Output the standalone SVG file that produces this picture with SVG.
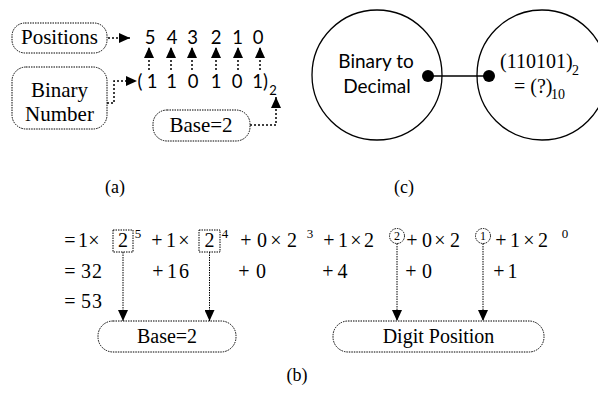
<svg xmlns="http://www.w3.org/2000/svg" width="598" height="396" viewBox="0 0 598 396">
<defs>
<marker id="ah" markerUnits="userSpaceOnUse" markerWidth="11" markerHeight="10" refX="11" refY="5" orient="auto" viewBox="0 0 11 10">
<path d="M0,0 L11,5 L0,10 z" fill="#000"/>
</marker>
</defs>
<rect x="0" y="0" width="598" height="396" fill="#fff"/>
<g id="positions">
<rect x="12" y="23" width="95" height="30" rx="13" fill="none" stroke="#000" stroke-width="1" stroke-dasharray="1.5 1"/>
<text font-family="Liberation Serif" x="59.5" y="44" font-size="21" text-anchor="middle">Positions</text>
</g>
<g id="binary-number">
<rect x="12" y="67" width="95" height="62" rx="14" fill="none" stroke="#000" stroke-width="1" stroke-dasharray="1.5 1"/>
<text font-family="Liberation Serif" x="59.5" y="97" font-size="21" text-anchor="middle">Binary</text>
<text font-family="Liberation Serif" x="59.5" y="121" font-size="21" text-anchor="middle">Number</text>
</g>
<g id="base-a">
<rect x="153" y="110" width="97" height="31" rx="14" fill="none" stroke="#000" stroke-width="1" stroke-dasharray="1.5 1"/>
<text font-family="Liberation Serif" x="201" y="132" font-size="21" text-anchor="middle">Base=2</text>
</g>
<g id="pos-digits">
<text font-family="Lato" font-size="18.5" text-anchor="middle" x="150 172 192.5 216 237.5 258" y="44">543210</text>
</g>
<g id="bin-digits">
<text font-family="Lato" font-size="18.5" text-anchor="middle" x="140 152 171.5 193 216 237 257.5 265.5" y="88">(110101)</text>
<text font-family="Lato" font-size="13" text-anchor="middle" x="273" y="95">2</text>
</g>
<g id="circle-left">
<circle cx="377" cy="75" r="65" fill="none" stroke="#000" stroke-width="1.3"/>
<text font-family="Lato" font-size="19" text-anchor="middle" x="376" y="68">Binary to</text>
<text font-family="Lato" font-size="19" text-anchor="middle" x="377" y="93">Decimal</text>
</g>
<g id="circle-right">
<circle cx="542" cy="75" r="65" fill="none" stroke="#000" stroke-width="1.3"/>
<text font-family="Liberation Serif" font-size="20" x="500" y="68">(110101)</text>
<text font-family="Liberation Serif" font-size="14" x="572" y="75">2</text>
<text font-family="Liberation Serif" font-size="20" x="514" y="93">= (?)</text>
<text font-family="Liberation Serif" font-size="14" x="551" y="99">10</text>
</g>
<g id="equation" font-family="Liberation Serif">
<rect x="113" y="230" width="20" height="22" fill="none" stroke="#000" stroke-width="1" stroke-dasharray="1.5 1"/>
<rect x="199" y="230" width="21" height="22" fill="none" stroke="#000" stroke-width="1" stroke-dasharray="1.5 1"/>
<text font-family="Liberation Serif" font-size="20" text-anchor="middle" y="247" x="70 83 94 123">=1×2</text>
<text font-family="Liberation Serif" font-size="20" text-anchor="middle" y="247" x="157 171 184 209.5">+1×2</text>
<text font-family="Liberation Serif" font-size="20" text-anchor="middle" y="247" x="246 262 276 292">+0×2</text>
<text font-family="Liberation Serif" font-size="20" text-anchor="middle" y="247" x="329 343 356 369">+1×2</text>
<text font-family="Liberation Serif" font-size="20" text-anchor="middle" y="247" x="412 427 440 455">+0×2</text>
<text font-family="Liberation Serif" font-size="20" text-anchor="middle" y="247" x="501 515 529 543">+1×2</text>
<text font-family="Liberation Serif" font-size="13" text-anchor="middle" y="238" x="138">5</text>
<text font-family="Liberation Serif" font-size="13" text-anchor="middle" y="238" x="225">4</text>
<text font-family="Liberation Serif" font-size="13" text-anchor="middle" y="238" x="310">3</text>
<text font-family="Liberation Serif" font-size="13" text-anchor="middle" y="238" x="565">0</text>
<circle cx="397" cy="236" r="7.5" fill="none" stroke="#000" stroke-width="1" stroke-dasharray="1.5 1"/>
<circle cx="483" cy="236" r="7.5" fill="none" stroke="#000" stroke-width="1" stroke-dasharray="1.5 1"/>
<text font-family="Liberation Serif" font-size="12" text-anchor="middle" y="240" x="397">2</text>
<text font-family="Liberation Serif" font-size="12" text-anchor="middle" y="240" x="483">1</text>
<text font-family="Liberation Serif" font-size="20" text-anchor="middle" y="278" x="70 86 97">=32</text>
<text font-family="Liberation Serif" font-size="20" text-anchor="middle" y="278" x="158 172 184">+16</text>
<text font-family="Liberation Serif" font-size="20" text-anchor="middle" y="278" x="244 261">+0</text>
<text font-family="Liberation Serif" font-size="20" text-anchor="middle" y="278" x="328 342.5">+4</text>
<text font-family="Liberation Serif" font-size="20" text-anchor="middle" y="278" x="411 427">+0</text>
<text font-family="Liberation Serif" font-size="20" text-anchor="middle" y="278" x="499 512.5">+1</text>
<text font-family="Liberation Serif" font-size="20" text-anchor="middle" y="308" x="70 86 97">=53</text>
</g>
<g id="base-b">
<rect x="98" y="321" width="138" height="31" rx="15" fill="none" stroke="#000" stroke-width="1" stroke-dasharray="1.5 1"/>
<text font-family="Liberation Serif" font-size="20" text-anchor="middle" x="167" y="343">Base=2</text>
</g>
<g id="digit-position">
<rect x="333" y="321" width="211" height="31" rx="15" fill="none" stroke="#000" stroke-width="1" stroke-dasharray="1.5 1"/>
<text font-family="Liberation Serif" font-size="20" text-anchor="middle" x="438.5" y="343">Digit Position</text>
</g>
<g id="labels">
<text font-family="Liberation Serif" font-size="18" text-anchor="middle" x="115" y="193">(a)</text>
<text font-family="Liberation Serif" font-size="18" text-anchor="middle" x="404" y="193">(c)</text>
<text font-family="Liberation Serif" font-size="18" text-anchor="middle" x="297" y="381">(b)</text>
</g>
<g id="connectors" fill="none" stroke="#000">
<g stroke-width="1.5" stroke-dasharray="2 2">
<line x1="108" y1="38" x2="130" y2="38" marker-end="url(#ah)"/>
<polyline points="107,103 114,103 114,81 137,81" marker-end="url(#ah)"/>
<polyline points="250,125 276,125 276,97" marker-end="url(#ah)"/>
<line x1="149" y1="70" x2="149" y2="47" marker-end="url(#ah)"/>
<line x1="171" y1="70" x2="171" y2="47" marker-end="url(#ah)"/>
<line x1="192" y1="70" x2="192" y2="47" marker-end="url(#ah)"/>
<line x1="216" y1="70" x2="216" y2="47" marker-end="url(#ah)"/>
<line x1="238" y1="70" x2="238" y2="47" marker-end="url(#ah)"/>
<line x1="260" y1="70" x2="260" y2="47" marker-end="url(#ah)"/>
</g>
<line x1="428" y1="76" x2="489" y2="76" stroke-width="1.3"/>
<circle cx="428" cy="76" r="6" fill="#000" stroke="none"/>
<circle cx="489" cy="76" r="6" fill="#000" stroke="none"/>
<g stroke-width="1" stroke-dasharray="1.5 1">
<line x1="123" y1="252" x2="123" y2="321" marker-end="url(#ah)"/>
<line x1="209.5" y1="252" x2="209.5" y2="321" marker-end="url(#ah)"/>
<line x1="397" y1="243.5" x2="397" y2="321" marker-end="url(#ah)"/>
<line x1="483" y1="243.5" x2="483" y2="321" marker-end="url(#ah)"/>
</g>
</g>
</svg>
